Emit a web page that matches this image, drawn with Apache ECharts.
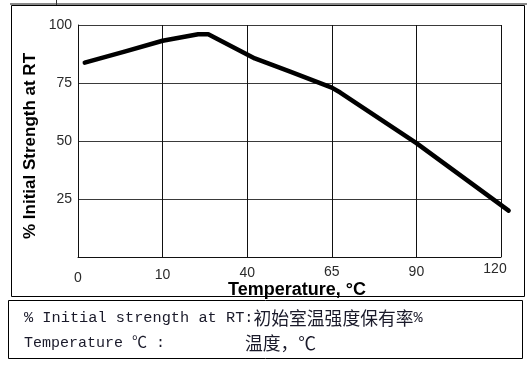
<!DOCTYPE html>
<html>
<head>
<meta charset="utf-8">
<script src="https://cdn.jsdelivr.net/npm/echarts@6/dist/echarts.min.js"></script>
<style>
html,body{margin:0;padding:0;background:#fff;}
#c{width:529px;height:366px;}
</style>
</head>
<body>
<div id="c"></div>
<script>
// Tick labels along the (evenly spaced) temperature axis
const tempTicks = ['0', '10', '40', '65', '90', '120'];
const strengthTicks = [25, 50, 75, 100];
// Curve: position along the temperature tick scale (0 = first tick), % initial strength
const curveX = [0.08, 0.55, 1.0, 1.42, 1.54, 2.09, 2.5, 3.0, 3.1, 4.0, 5.09];
const curveY = [83.8, 88.5, 93.2, 96.0, 96.0, 85.6, 80.0, 73.0, 70.9, 49.1, 20.0];
const yTitle = '% Initial Strength at RT';
const xTitle = 'Temperature, °C';
const note1a = '% Initial strength at RT:';
const note1b = '初始室温强度保有率';
const note1c = '%';
const note2a = 'Temperature ℃ :';
const note2b = '温度，℃';

const chart = echarts.init(document.getElementById('c'), null, {renderer: 'canvas'});
const labelPad = {'0': 9, '10': 6, '40': 4, '65': 3, '90': 3, '120': 0};
const rich = {};
tempTicks.forEach((t, i) => {
  rich['t' + i] = {
    fontFamily: 'Arial, "Liberation Sans", sans-serif', fontSize: 14, color: '#2a2a2a',
    padding: [labelPad[t], t === '120' ? 12 : 0, 0, 0]
  };
});
// layout: main grid 78..501 px; the curve uses a wider twin grid with the same scale
const gridLeft = 78, gridRight = 28, W = 529;
const lastTick = tempTicks.length - 1;
const pxPerTick = (W - gridLeft - gridRight) / lastTick;
const overMax = lastTick + 0.2;
const option = {
  animation: false,
  backgroundColor: '#fff',
  grid: [
    {left: gridLeft, top: 25, right: gridRight, bottom: 109, containLabel: false},
    {left: gridLeft, top: 25, right: W - gridLeft - overMax * pxPerTick, bottom: 109, containLabel: false}
  ],
  xAxis: [{
    type: 'value', min: 0, max: lastTick, interval: 1, gridIndex: 0,
    axisLine: {show: true, lineStyle: {color: '#111', width: 1}},
    axisTick: {show: false},
    splitLine: {show: true, lineStyle: {color: '#111', width: 1}},
    axisLabel: {
      margin: 5,
      formatter: v => { const i = Math.round(v); return '{t' + i + '|' + tempTicks[i] + '}'; },
      rich: rich
    }
  }, {
    type: 'value', min: 0, max: overMax, gridIndex: 1, show: false
  }],
  yAxis: [{
    type: 'value', min: 0, max: 100, interval: 25, gridIndex: 0,
    axisLine: {show: true, lineStyle: {color: '#111', width: 1}},
    axisTick: {show: false},
    splitLine: {show: true, lineStyle: {color: '#3a3a3a', width: 1}},
    axisLabel: {
      margin: 6, fontFamily: 'Arial, "Liberation Sans", sans-serif', fontSize: 14, color: '#2a2a2a',
      formatter: v => strengthTicks.indexOf(v) >= 0 ? String(v) : ''
    }
  }, {
    type: 'value', min: 0, max: 100, gridIndex: 1, show: false
  }],
  series: [{
    type: 'line',
    xAxisIndex: 1, yAxisIndex: 1,
    data: curveX.map((x, i) => [x, curveY[i]]),
    symbol: 'none',
    showSymbol: false,
    clip: false,
    smooth: false,
    z: 10,
    lineStyle: {color: '#000', width: 4.5, join: 'round', cap: 'round'}
  }],
  graphic: [
    {type: 'line', shape: {x1: 10, y1: 4, x2: 527, y2: 4}, style: {stroke: '#888', lineWidth: 2}},
    {type: 'line', shape: {x1: 56.5, y1: 0, x2: 56.5, y2: 5}, style: {stroke: '#333', lineWidth: 1}},
    {type: 'rect', shape: {x: 11.5, y: 5.5, width: 513, height: 291}, style: {fill: null, stroke: '#000', lineWidth: 1}},
    {type: 'rect', shape: {x: 8.5, y: 300.5, width: 514, height: 58}, style: {fill: null, stroke: '#000', lineWidth: 1}},
    {type: 'text', x: 30, y: 146, rotation: Math.PI / 2,
      style: {text: yTitle, fontFamily: 'Arial, "Liberation Sans", sans-serif', fontWeight: 'bold', fontSize: 17,
        fill: '#000', align: 'center', verticalAlign: 'middle'}},
    {type: 'text', x: 297, y: 290,
      style: {text: xTitle, fontFamily: 'Arial, "Liberation Sans", sans-serif', fontWeight: 'bold', fontSize: 18,
        fill: '#000', align: 'center', verticalAlign: 'middle'}},
    {type: 'text', x: 24, y: 318,
      style: {text: '{a|' + note1a + '}{b|' + note1b + '}{a|' + note1c + '}', verticalAlign: 'middle', align: 'left',
        rich: {
          a: {fontFamily: '"Liberation Mono", "DejaVu Sans Mono", monospace', fontSize: 15.3, fill: '#1a1a2a'},
          b: {fontFamily: '"Noto Sans CJK SC", sans-serif', fontSize: 17.8, fill: '#1a1a2a'}
        }}},
    {type: 'text', x: 24, y: 343,
      style: {text: note2a, fontFamily: '"Liberation Mono", "DejaVu Sans Mono", "Noto Sans CJK SC", monospace', fontSize: 15,
        fill: '#1a1a2a', align: 'left', verticalAlign: 'middle'}},
    {type: 'text', x: 245, y: 343,
      style: {text: note2b, fontFamily: '"Noto Sans CJK SC", sans-serif', fontSize: 17.8,
        fill: '#1a1a2a', align: 'left', verticalAlign: 'middle'}}
  ]
};
chart.setOption(option);
</script>
</body>
</html>
